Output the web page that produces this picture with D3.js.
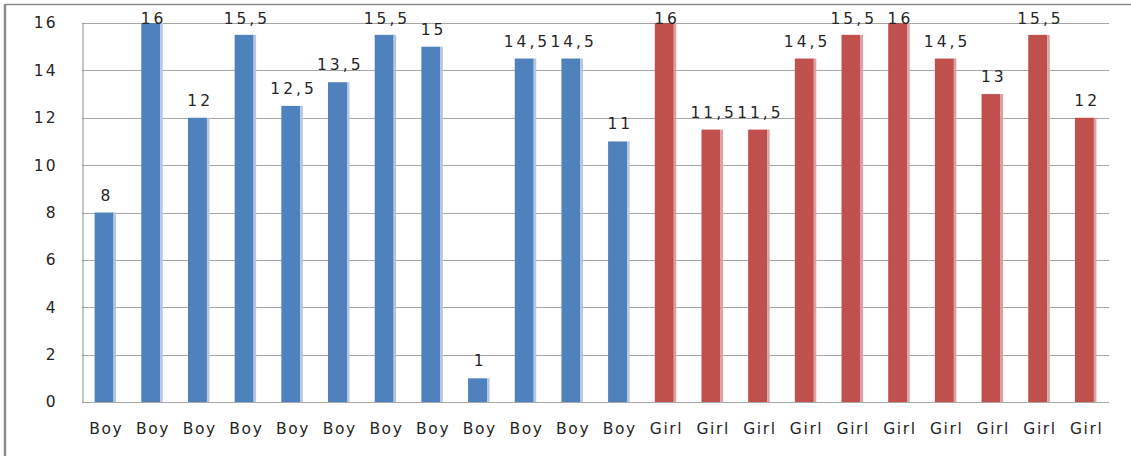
<!DOCTYPE html>
<html><head><meta charset="utf-8">
<script src="https://cdn.jsdelivr.net/npm/d3@7/dist/d3.min.js"></script>
<style>
html,body{margin:0;padding:0;background:#fff;}
svg{display:block;}
text{font-family:"DejaVu Sans",Verdana,sans-serif;fill:#262626;}
</style></head>
<body>
<script>
const categories = ["Boy","Boy","Boy","Boy","Boy","Boy","Boy","Boy","Boy","Boy","Boy","Boy",
  "Girl","Girl","Girl","Girl","Girl","Girl","Girl","Girl","Girl","Girl"];
const values = [8,16,12,15.5,12.5,13.5,15.5,15,1,14.5,14.5,11,
  16,11.5,11.5,14.5,15.5,16,14.5,13,15.5,12];
const yTicks = [0,2,4,6,8,10,12,14,16];

const W = 1131, H = 456;
const svg = d3.select("body").append("svg").attr("width", W).attr("height", H);

// outer frame
svg.append("line").attr("x1",5).attr("x2",W).attr("y1",4.5).attr("y2",4.5).attr("stroke","#8c8c8c").attr("stroke-width",1.5);
svg.append("line").attr("x1",5).attr("x2",5).attr("y1",4).attr("y2",H).attr("stroke","#8c8c8c").attr("stroke-width",2.5);

const pLeft = 82, pRight = 1109, pTop = 23, pBottom = 402;
const x = d3.scaleBand().domain(d3.range(categories.length)).range([pLeft,pRight]).paddingInner(0.54).paddingOuter(0.27);
const y = d3.scaleLinear().domain([0,16]).range([pBottom,pTop]);

// gridlines
svg.append("g").selectAll("line").data(yTicks).join("line")
  .attr("x1",pLeft).attr("x2",pRight)
  .attr("y1",d=>Math.round(y(d))+0.5).attr("y2",d=>Math.round(y(d))+0.5)
  .attr("stroke","#a6a6a6").attr("stroke-width",1.2);

// y axis
const yAxis = d3.axisLeft(y).tickValues(yTicks).tickSize(0).tickPadding(25)
  .tickFormat(d=>String(d));
const ga = svg.append("g").attr("transform",`translate(${pLeft+0.5},0)`).call(yAxis);
ga.select(".domain").attr("stroke","#8c8c8c");
ga.selectAll("text").style("font-size","15.5px").style("letter-spacing","2px").attr("fill","#333");

const colorOf = c => c === "Boy" ? "#4f81bd" : "#c0504d";
const edgeOf = c => c === "Boy" ? "#b3c7e4" : "#dea09e";

const bw = x.bandwidth();
const g = svg.append("g");
const idx = d3.range(values.length);
g.selectAll("rect.bar").data(idx).join("rect").attr("class","bar")
  .attr("x",i=>x(i)).attr("width",bw-2.5)
  .attr("y",i=>y(values[i])).attr("height",i=>pBottom-y(values[i]))
  .attr("fill",i=>colorOf(categories[i]));
g.selectAll("rect.edge").data(idx).join("rect").attr("class","edge")
  .attr("x",i=>x(i)+bw-2.5).attr("width",2.5)
  .attr("y",i=>y(values[i])).attr("height",i=>pBottom-y(values[i]))
  .attr("fill",i=>edgeOf(categories[i]));

// data labels
g.selectAll("text.lab").data(idx).join("text").attr("class","lab")
  .attr("x",i=>x(i)+bw/2+1.5).attr("y",i=>Math.max(y(values[i])-12,24))
  .attr("text-anchor","middle").style("font-size","15.5px").style("letter-spacing","3px")
  .text(i=>String(values[i]).replace(".",","));

// x labels
const xAxis = d3.axisBottom(x).tickSize(0).tickPadding(0).tickFormat(i=>categories[i]);
const gx = svg.append("g").attr("transform",`translate(1,${pBottom})`).call(xAxis);
gx.select(".domain").remove();
gx.selectAll("text").attr("dy",null).attr("y",32).style("font-size","15.5px").style("letter-spacing","1.6px").attr("fill","#262626");
</script>
</body></html>
